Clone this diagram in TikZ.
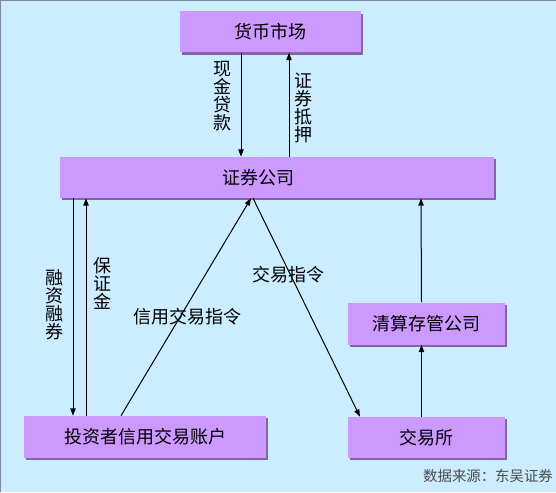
\documentclass[tikz,border=0pt]{standalone}
\usepackage{fontspec}
\newfontfamily\cjk{Noto Sans CJK SC}
\usepackage{xcolor}
\usepackage{tikz}
\usetikzlibrary{calc, positioning, shadows}
\usetikzlibrary{arrows.meta}

\definecolor{bgblue}{HTML}{CCECFF}
\definecolor{boxpurple}{HTML}{CC99FF}
\definecolor{boxshadow}{HTML}{8463A6}
\definecolor{framegray}{HTML}{7C8C9C}
\definecolor{notegray}{HTML}{4A4A4A}

\begin{document}
\begin{tikzpicture}[x=0.75pt, y=-0.75pt]

\tikzstyle{box} = [rectangle, fill=boxpurple, inner sep=0pt, font=\cjk\fontsize{13.5}{13.5}\selectfont,
  drop shadow={shadow xshift=1.6pt, shadow yshift=-1.6pt, fill=boxshadow, opacity=1}]
\tikzstyle{lbl} = [inner sep=0pt, align=center, font=\cjk\fontsize{13.5}{13.5}\selectfont]
\tikzstyle{arrow} = [line width=0.75pt, -{Triangle[length=5.5pt, width=4pt]}]

% Background
\useasboundingbox (0,0) rectangle (556,492);
\fill[bgblue] (0,0) rectangle (556,492);
\draw[framegray, line width=2pt] (0,492) -- (0,0) -- (556,0);

% Make nodes
\node (money) [box, minimum width=135.75pt, minimum height=30.75pt] at (270.5, 32) {货币市场};
\node (broker) [box, minimum width=325.5pt, minimum height=30.75pt] at (277, 177.5) {\hspace*{-28pt}证券公司};
\node (investor) [box, minimum width=181.5pt, minimum height=31.5pt] at (145, 437) {投资者信用交易账户};
\node (clearing) [box, minimum width=117.75pt, minimum height=31.5pt] at (426.5, 323.5) {清算存管公司};
\node (exchange) [box, minimum width=117.75pt, minimum height=30.75pt] at (426.5, 437.5) {交易所};

% Labels
\node (cash) [lbl] at (222, 96) {现\\金\\贷\\款};
\node (pledge) [lbl] at (303, 107.5) {证\\券\\抵\\押};
\node (margin) [lbl] at (54, 305) {融\\资\\融\\券};
\node (deposit) [lbl] at (102, 283.5) {保\\证\\金};
\node (credit) [lbl] at (187, 317) {信用交易指令};
\node (order) [lbl] at (288, 275) {交易指令};
\node (source) [inner sep=0pt, font=\cjk\fontsize{10.8}{10.8}\selectfont, text=notegray] at (488, 476) {数据来源：东吴证券};

% Connect nodes
\draw[arrow] ($(money.south)+(-29.5,0)$) -- ($(broker.north)+(-36,0)$);
\draw[arrow] ($(broker.north)+(12,0)$) -- ($(money.south)+(18.5,0)$);

\draw[arrow] ($(broker.south)+(-204,0)$) -- ($(investor.north)+(-72,0)$);
\draw[arrow] ($(investor.north)+(-59,0)$) -- ($(broker.south)+(-191,0)$);
\draw[arrow] ($(investor.north)+(-24,0)$) -- ($(broker.south)+(-26,0)$);
\draw[arrow] ($(broker.south)+(-24,0)$) -- ($(exchange.north)+(-66.5,0)$);

\draw[arrow] ($(exchange.north)+(-5,0)$) -- ($(clearing.south)+(-5,0)$);
\draw[arrow] ($(clearing.north)+(-5,0)$) -- ($(broker.south)+(144,0)$);

\end{tikzpicture}
\end{document}
